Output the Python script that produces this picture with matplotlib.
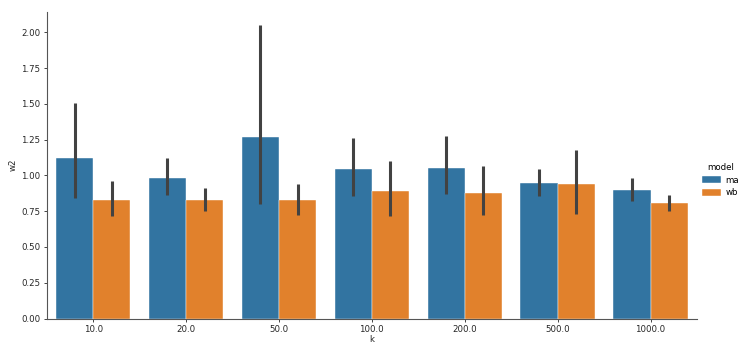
import numpy as np
import matplotlib
matplotlib.use('Agg')
import matplotlib.pyplot as plt

# data
k_labels = ['10.0', '20.0', '50.0', '100.0', '200.0', '500.0', '1000.0']
models = ['ma', 'wb']
ma_mean = [1.12, 0.982, 1.267, 1.048, 1.055, 0.948, 0.896]
ma_lo = [0.845, 0.861, 0.798, 0.857, 0.871, 0.859, 0.818]
ma_hi = [1.509, 1.124, 2.052, 1.265, 1.274, 1.046, 0.982]
wb_mean = [0.826, 0.831, 0.826, 0.892, 0.875, 0.938, 0.808]
wb_lo = [0.719, 0.754, 0.722, 0.715, 0.722, 0.733, 0.749]
wb_hi = [0.961, 0.910, 0.940, 1.101, 1.069, 1.176, 0.861]

colors = ['#3274a1', '#e1812c']
fs = 6.2

plt.rcParams['font.family'] = 'DejaVu Sans'
fig = plt.figure(figsize=(7.47, 3.53), dpi=100)
ax = fig.add_axes([0.0625, 0.0977, 0.8705, 0.8693])

x = np.arange(len(k_labels))
w = 0.4
series = [(ma_mean, ma_lo, ma_hi), (wb_mean, wb_lo, wb_hi)]
for i, (m, lo, hi) in enumerate(series):
    xs = x - w / 2 + i * w
    ax.bar(xs, m, width=w, color=colors[i], edgecolor='white', linewidth=0.3, label=models[i])
    ax.vlines(xs, lo, hi, color='#424242', linewidth=2.2, zorder=3)

ax.set_xlim(-0.5, len(k_labels) - 0.5)
ax.set_ylim(0, 2.145)
ax.set_xticks(x)
ax.set_xticklabels(k_labels)
ax.set_yticks(np.arange(0, 2.01, 0.25))
ax.set_yticklabels([f'{v:.2f}' for v in np.arange(0, 2.01, 0.25)])
ax.tick_params(labelsize=fs, length=2.5, width=0.6, pad=2, colors='#262626')
ax.set_xlabel('k', fontsize=fs, labelpad=1, color='#262626')
ax.set_ylabel('w2', fontsize=fs, labelpad=3, color='#262626')
for s in ['top', 'right']:
    ax.spines[s].set_visible(False)
for s in ['left', 'bottom']:
    ax.spines[s].set_linewidth(0.8)
    ax.spines[s].set_color('#555555')

leg = fig.legend(title='model', loc='center left', bbox_to_anchor=(0.93, 0.49),
                 frameon=False, fontsize=fs, title_fontsize=fs,
                 handlelength=2.2, handleheight=0.9, handletextpad=0.5, labelspacing=0.45)

fig.savefig('out.png', dpi=100)
